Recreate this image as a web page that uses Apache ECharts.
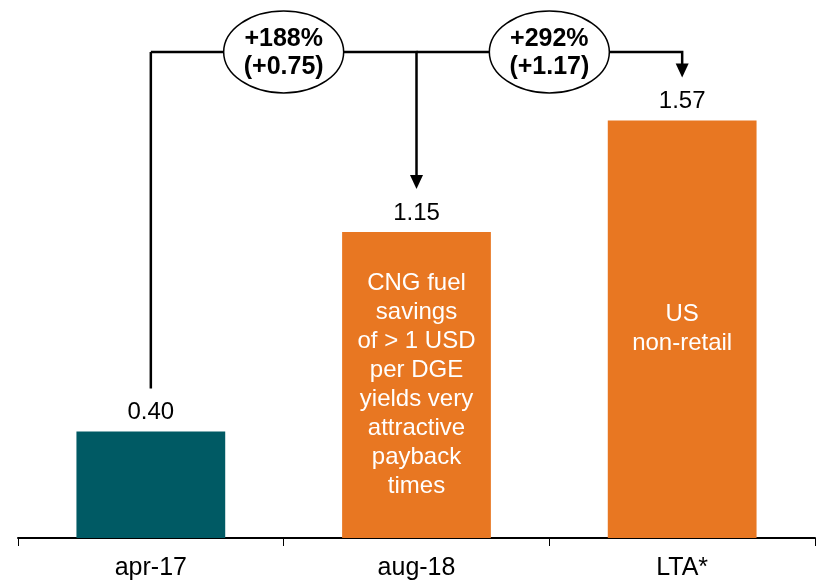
<!DOCTYPE html>
<html lang="en">
<head>
    <meta charset="UTF-8">
    <title>CNG savings</title>
    <script src="https://cdn.jsdelivr.net/npm/echarts@6/dist/echarts.min.js"></script>
    <style>
        html, body { margin: 0; padding: 0; background: #fff; }
        #container { width: 817px; height: 584px; }
    </style>
</head>
<body>
<div id="container"></div>
<script>
    var categories = ['apr-17', 'aug-18', 'LTA*'];
    var values = [0.40, 1.15, 1.57];
    var barColors = ['#005A64', '#E87722', '#E87722'];
    var innerTexts = [
        '',
        'CNG fuel\nsavings\nof > 1 USD\nper DGE\nyields very\nattractive\npayback\ntimes',
        'US\nnon-retail'
    ];
    // change bubbles: from bar index, to bar index, text
    var changeFrom = [0, 1];
    var changeTo = [1, 2];
    var changeTexts = ['+188%\n(+0.75)', '+292%\n(+1.17)'];

    var font = 'Liberation Sans, Arial, sans-serif';
    var myChart = echarts.init(document.getElementById('container'));

    myChart.setOption({
        animation: false,
        grid: { left: 18, right: 2, top: 6, bottom: 46 },
        xAxis: {
            type: 'category',
            data: categories,
            axisLine: { lineStyle: { color: '#000', width: 2 } },
            axisTick: { show: true, length: 8, lineStyle: { color: '#000', width: 1 } },
            axisLabel: { color: '#000', fontSize: 25, fontFamily: font, margin: 18 }
        },
        yAxis: {
            type: 'value',
            min: 0,
            max: 2,
            show: false,
            splitLine: { show: false }
        },
        series: [
            {
                type: 'bar',
                barWidth: '56%',
                data: values.map(function (v, i) {
                    return { value: v, itemStyle: { color: barColors[i] } };
                }),
                label: {
                    show: true,
                    position: 'top',
                    distance: 7,
                    color: '#000',
                    fontSize: 24,
                    fontFamily: font,
                    formatter: function (p) { return p.value.toFixed(2); }
                }
            },
            {
                type: 'bar',
                barWidth: '56%',
                barGap: '-100%',
                silent: true,
                itemStyle: { color: 'rgba(0,0,0,0)' },
                data: values.map(function (v, i) {
                    return { value: v, label: { formatter: innerTexts[i] } };
                }),
                label: {
                    show: true,
                    position: 'inside',
                    color: '#fff',
                    fontSize: 24,
                    lineHeight: 29,
                    fontFamily: font
                }
            }
        ]
    });

    function drawBrackets() {
        var gap = 43;        // space between arrow tip and bar top
        var levelY = 52;     // bracket height in px
        var elements = [];
        var pos = values.map(function (v, i) {
            return myChart.convertToPixel({ xAxisIndex: 0, yAxisIndex: 0 }, [i, v]);
        });
        // start line from the first bar
        elements.push({
            type: 'polyline',
            shape: { points: [[pos[0][0], pos[0][1] - gap], [pos[0][0], levelY]] },
            style: { stroke: '#000', lineWidth: 2.5, fill: null }
        });
        for (var k = 0; k < changeTexts.length; k++) {
            var a = pos[changeFrom[k]];
            var b = pos[changeTo[k]];
            var tipY = b[1] - gap;
            elements.push({
                type: 'polyline',
                shape: { points: [[a[0], levelY], [b[0], levelY], [b[0], tipY - 12]] },
                style: { stroke: '#000', lineWidth: 2.5, fill: null }
            });
            elements.push({
                type: 'polygon',
                shape: { points: [[b[0] - 6.5, tipY - 14], [b[0] + 6.5, tipY - 14], [b[0], tipY]] },
                style: { fill: '#000' }
            });
            var cx = (a[0] + b[0]) / 2;
            elements.push({
                type: 'ellipse',
                shape: { cx: cx, cy: levelY, rx: 60, ry: 41 },
                style: { fill: '#fff', stroke: '#000', lineWidth: 1.5 },
                z: 10
            });
            elements.push({
                type: 'text',
                x: cx,
                y: levelY + 1,
                z: 11,
                style: {
                    text: changeTexts[k],
                    fill: '#000',
                    font: 'bold 25px ' + font,
                    lineHeight: 28,
                    align: 'center',
                    verticalAlign: 'middle'
                }
            });
        }
        myChart.setOption({ graphic: { elements: elements } });
    }

    drawBrackets();
</script>
</body>
</html>
